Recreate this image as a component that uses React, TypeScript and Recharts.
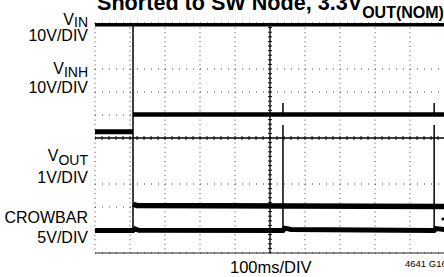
import {
  ComposedChart,
  Line,
  Scatter,
  XAxis,
  YAxis,
  CartesianGrid,
  ReferenceLine,
} from 'recharts';

// scope screen: 10 x 10 divisions, values in divisions from bottom-left
const divTicks = [0, 1, 2, 3, 4, 5, 6, 7, 8, 9, 10];
const minorTicks = Array.from({ length: 51 }, (_, i) => i / 5);

// times of the events (div)
const tStart = 1.086;
const tSpike1 = 5.37;
const tSpike2 = 9.69;

// steady levels (div)
const vinLevel = [
  { t: 0, v: 9.93 },
  { t: 10, v: 9.93 },
];
const vinhBefore = [
  { t: 0, v: 5.27 },
  { t: tStart, v: 5.27 },
];
const vinhAfter = [
  { t: tStart, v: 6.02 },
  { t: 10, v: 6.02 },
];
const voutAfter = [
  { t: tStart, v: 2.12 },
  { t: 1.2, v: 2.06 },
  { t: 10, v: 2.02 },
];
const crowbarLevel = [
  { t: 0, v: 0.98 },
  { t: tStart, v: 0.98 },
  { t: 1.14, v: 1.05 },
  { t: 1.25, v: 0.99 },
  { t: tSpike1, v: 0.98 },
  { t: 5.42, v: 1.08 },
  { t: 5.6, v: 1.02 },
  { t: tSpike2, v: 0.98 },
  { t: 9.74, v: 1.06 },
  { t: 10, v: 1.02 },
];

// thin transitions
const startEdge = [
  { t: tStart, v: 9.93 },
  { t: tStart, v: 0.98 },
];
const vinhSpike1 = [
  { t: tSpike1, v: 6.02 },
  { t: tSpike1, v: 6.52 },
];
const vinhSpike2 = [
  { t: tSpike2, v: 6.02 },
  { t: tSpike2, v: 6.52 },
];
const crowbarSpike1 = [
  { t: tSpike1, v: 5.57 },
  { t: tSpike1, v: 0.98 },
];
const crowbarSpike2 = [
  { t: tSpike2, v: 5.57 },
  { t: tSpike2, v: 0.98 },
];
const markerPoints = [{ t: 9.94, v: 1.48 }];

const hTicks = minorTicks.map((t) => ({ t, v: 5 }));
const vTicks = minorTicks.map((v) => ({ t: 5, v }));

const FONT = '"Liberation Sans", Arial, sans-serif';

const trace = (data: { t: number; v: number }[], w: number, key: string) => (
  <Line
    key={key}
    data={data}
    dataKey="v"
    type="linear"
    stroke="#000"
    strokeWidth={w}
    dot={false}
    activeDot={false}
    isAnimationActive={false}
  />
);

const VTickShape = (p: any) => (
  <line x1={p.cx} x2={p.cx} y1={p.cy - 2} y2={p.cy + 2} stroke="#111" strokeWidth={1} />
);
const HTickShape = (p: any) => (
  <line x1={p.cx - 2} x2={p.cx + 2} y1={p.cy} y2={p.cy} stroke="#111" strokeWidth={1} />
);
const DotShape = (p: any) => <circle cx={p.cx} cy={p.cy} r={1.5} fill="#000" />;

export default function App() {
  return (
    <div
      style={{
        position: 'absolute',
        left: 0,
        top: 0,
        width: 444,
        height: 277,
        overflow: 'hidden',
        background: '#fff',
      }}
    >
      <ComposedChart
        width={446}
        height={277}
        margin={{ top: 23, right: 1, bottom: 24, left: 95 }}
      >
        <XAxis
          dataKey="t"
          type="number"
          domain={[0, 10]}
          ticks={divTicks}
          allowDataOverflow
          hide
        />
        <YAxis
          dataKey="v"
          type="number"
          domain={[0, 10]}
          ticks={divTicks}
          allowDataOverflow
          hide
        />
        <CartesianGrid vertical={false} stroke="#444" strokeDasharray="1 6" />
        <CartesianGrid horizontal={false} stroke="#444" strokeDasharray="1 3.6" />
        <ReferenceLine x={5} stroke="#000" strokeWidth={1.3} />
        <ReferenceLine y={5} stroke="#000" strokeWidth={1.3} />
        <ReferenceLine y={0} stroke="#222" strokeWidth={1} />
        <Scatter data={hTicks} dataKey="v" shape={VTickShape} isAnimationActive={false} />
        <Scatter data={vTicks} dataKey="v" shape={HTickShape} isAnimationActive={false} />
        {trace(startEdge, 1.5, 'e0')}
        {trace(vinhSpike1, 1.5, 'e1')}
        {trace(vinhSpike2, 1.5, 'e2')}
        {trace(crowbarSpike1, 1.5, 'e3')}
        {trace(crowbarSpike2, 1.5, 'e4')}
        {trace(vinLevel, 4, 'vin')}
        {trace(vinhBefore, 5, 'vinh0')}
        {trace(vinhAfter, 4.5, 'vinh1')}
        {trace(voutAfter, 5.5, 'vout')}
        {trace(crowbarLevel, 5, 'crow')}
        <Scatter data={markerPoints} dataKey="v" shape={DotShape} isAnimationActive={false} />
      </ComposedChart>

      <svg
        width={444}
        height={277}
        style={{ position: 'absolute', left: 0, top: 0, pointerEvents: 'none' }}
        fontFamily={FONT}
      >
        <text x={97} y={9.5} fontSize={21.6} fontWeight="bold" fill="#000">
          Shorted to SW Node, 3.3V
          <tspan fontSize={16} dy={8.5}>OUT(NOM)</tspan>
        </text>

        <g textAnchor="end" fill="#000" fontSize={16}>
          <text x={88} y={25}>
            V<tspan fontSize={14} dy={2}>IN</tspan>
          </text>
          <text x={88} y={40.5}>10V/DIV</text>
          <text x={88} y={73.5}>
            V<tspan fontSize={14} dy={3}>INH</tspan>
          </text>
          <text x={88} y={93}>10V/DIV</text>
          <text x={88} y={161}>
            V<tspan fontSize={14} dy={3.5}>OUT</tspan>
          </text>
          <text x={88} y={183}>1V/DIV</text>
          <text x={88} y={223}>CROWBAR</text>
          <text x={88} y={243}>5V/DIV</text>
        </g>
        <text x={230} y={273} fontSize={16.5} fill="#000">100ms/DIV</text>
        <text x={405} y={267} fontSize={9.5} fill="#000">4641 G16</text>
      </svg>
    </div>
  );
}
